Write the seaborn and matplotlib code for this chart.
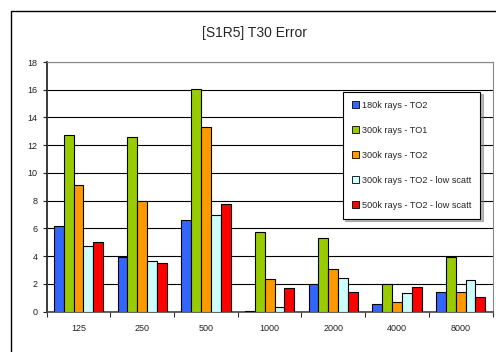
import matplotlib
matplotlib.use("Agg")
import matplotlib.pyplot as plt
import seaborn as sns
import pandas as pd
from matplotlib.patches import Rectangle
from matplotlib.ticker import MultipleLocator, FixedLocator

categories = ["125", "250", "500", "1000", "2000", "4000", "8000"]
series_names = ["180k rays - TO2", "300k rays - TO1", "300k rays - TO2",
                "300k rays - TO2 - low scatt", "500k rays - TO2 - low scatt"]
s180_to2 = [6.17, 3.96, 6.58, 0.07, 2.02, 0.58, 1.44]
s300_to1 = [12.72, 12.62, 16.08, 5.71, 5.28, 1.97, 3.94]
s300_to2 = [9.12, 7.99, 13.3, 2.33, 3.05, 0.67, 1.44]
s300_to2_low = [4.75, 3.65, 6.98, 0.31, 2.4, 1.34, 2.28]
s500_to2_low = [5.04, 3.53, 7.73, 1.73, 1.44, 1.78, 1.03]
colors = ["#3366FF", "#99CC00", "#FF9900", "#CCFFFF", "#FF0000"]

rows = []
for name, vals in zip(series_names, [s180_to2, s300_to1, s300_to2, s300_to2_low, s500_to2_low]):
    for c, v in zip(categories, vals):
        rows.append({"band": c, "value": v, "series": name})
df = pd.DataFrame(rows)

sns.set_theme(style="white")
plt.rcParams['font.family'] = ['Liberation Sans', 'DejaVu Sans']

W, H = 496, 352
fig = plt.figure(figsize=(W / 100, H / 100), dpi=100)
ax_l, ax_r, ax_t, ax_b = 46.7, 492.5, 62.0, 311.7
ax = fig.add_axes([ax_l / W, 1 - ax_b / H, (ax_r - ax_l) / W, (ax_b - ax_t) / H])

sns.barplot(data=df, x="band", y="value", hue="series", order=categories,
            hue_order=series_names, palette=colors, width=0.775,
            edgecolor="black", linewidth=0.8, saturation=1, ax=ax, zorder=3)

# outer chart border
fig.patches.append(Rectangle((10.5 / W, -0.05), (W + 20) / W, 1 - 11 / H + 0.05,
                             transform=fig.transFigure, fill=False,
                             edgecolor="black", linewidth=1.0))

ax.set_xlim(-0.5, 6.5)
ax.set_ylim(0, 18)
ax.yaxis.set_major_locator(MultipleLocator(2))
ax.grid(axis="y", color="black", linewidth=0.8, zorder=0)
ax.set_axisbelow(True)
ax.set_xlabel("")
ax.set_ylabel("")
ax.tick_params(axis="x", which="major", length=0, labelsize=6.5, pad=9, colors="#222222")
ax.xaxis.set_minor_locator(FixedLocator([i - 0.5 for i in range(8)]))
ax.tick_params(axis="x", which="minor", length=3.5, width=0.8, color="#333333", bottom=True)
ax.tick_params(axis="y", length=3, width=0.8, labelsize=6.5, left=True, colors="#222222")
for s in ["top", "right"]:
    ax.spines[s].set_color("#888888")
    ax.spines[s].set_linewidth(0.8)
ax.spines["left"].set_color("#222222")
ax.spines["bottom"].set_color("#444444")
ax.spines["bottom"].set_linewidth(1.2)

fig.text(254 / W, 1 - 33 / H, "[S1R5] T30 Error", ha="center", va="center", fontsize=10)

handles, labels = ax.get_legend_handles_labels()
leg = ax.legend(handles, labels, loc="upper left", bbox_to_anchor=(0.665, 0.88),
                fontsize=6.6, frameon=True, fancybox=False,
                shadow={"color": "#777777", "ox": 1.5, "oy": -1.5},
                handlelength=0.75, handleheight=0.75, handletextpad=0.4,
                labelspacing=1.75, borderpad=0.95, borderaxespad=0)
leg.get_frame().set_edgecolor("black")
leg.get_frame().set_linewidth(0.8)
for p in leg.get_patches():
    p.set_edgecolor("black")
    p.set_linewidth(0.6)

fig.savefig("out.png", dpi=100)
